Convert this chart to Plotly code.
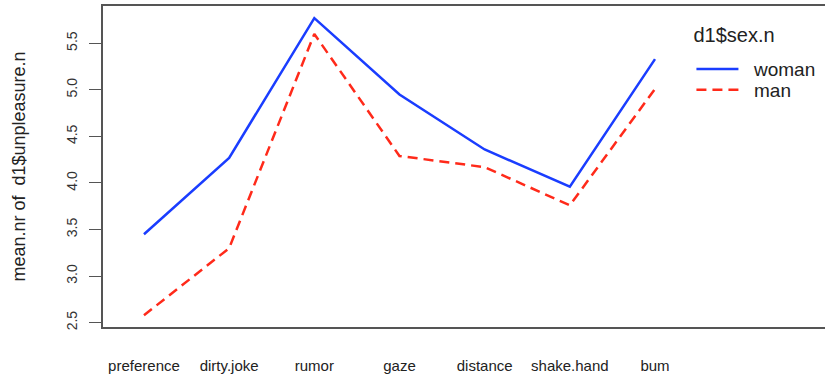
import plotly.graph_objects as go

categories = ["preference", "dirty.joke", "rumor", "gaze", "distance", "shake.hand", "bum"]
woman = [3.45, 4.27, 5.77, 4.95, 4.36, 3.96, 5.33]
man = [2.58, 3.30, 5.60, 4.29, 4.17, 3.76, 5.01]
y_ticks = [2.5, 3.0, 3.5, 4.0, 4.5, 5.0, 5.5]
y_title = "mean.nr of  d1$unpleasure.n"
legend_title = "d1$sex.n"
series_names = ["woman", "man"]

pad = "\u00a0\u00a0"

fig = go.Figure()
# title-only legend holder (invisible entry)
fig.add_trace(go.Scatter(x=[categories[0]], y=[None], mode="lines", name=" ",
                         line=dict(color="rgba(0,0,0,0)", width=0),
                         legend="legend", hoverinfo="skip"))
fig.add_trace(go.Scatter(x=categories, y=woman, mode="lines", name=pad + series_names[0],
                         line=dict(color="#1a3dff", width=2.5), legend="legend2"))
fig.add_trace(go.Scatter(x=categories, y=man, mode="lines", name=pad + series_names[1],
                         line=dict(color="#ff2a1a", width=2.5, dash="10px,6px"),
                         legend="legend3"))

leg_common = dict(font=dict(size=19, color="#222"), bgcolor="rgba(0,0,0,0)",
                  xanchor="left", itemwidth=42)

def py(pix):
    return 1 - (pix - 6) / 325.0

fig.update_layout(
    width=825, height=374,
    margin=dict(l=103, r=0, t=6, b=43),
    paper_bgcolor="white", plot_bgcolor="white",
    font=dict(family="Liberation Sans, Arial, sans-serif", color="#222"),
    showlegend=True,
    legend=dict(title=dict(text=legend_title, font=dict(size=20, color="#222")),
                x=0.815, y=py(16), yanchor="top", **leg_common),
    legend2=dict(x=0.815, y=py(70), yanchor="middle", **leg_common),
    legend3=dict(x=0.815, y=py(91), yanchor="middle", **leg_common),
)
fig.update_xaxes(
    type="category", categoryorder="array", categoryarray=categories,
    range=[-0.481, 7.996],
    showline=True, mirror=True, linecolor="#555", linewidth=1.5,
    showgrid=False, zeroline=False, ticks="",
    ticklabelstandoff=24,
    tickfont=dict(size=15, color="#222"),
)
fig.update_yaxes(
    range=[2.454, 5.90],
    showline=True, mirror=False, linecolor="#555", linewidth=1.5,
    showgrid=False, zeroline=False,
    ticks="outside", ticklen=12, tickcolor="#555", tickwidth=1.2,
    tickvals=y_ticks, ticktext=[f"{v:.1f}" for v in y_ticks],
    tickangle=-90, tickfont=dict(size=14, color="#333"),
    ticklabelstandoff=7,
    title=dict(text=y_title, font=dict(size=18, color="#222"), standoff=33),
)

fig.write_html("out.html")
